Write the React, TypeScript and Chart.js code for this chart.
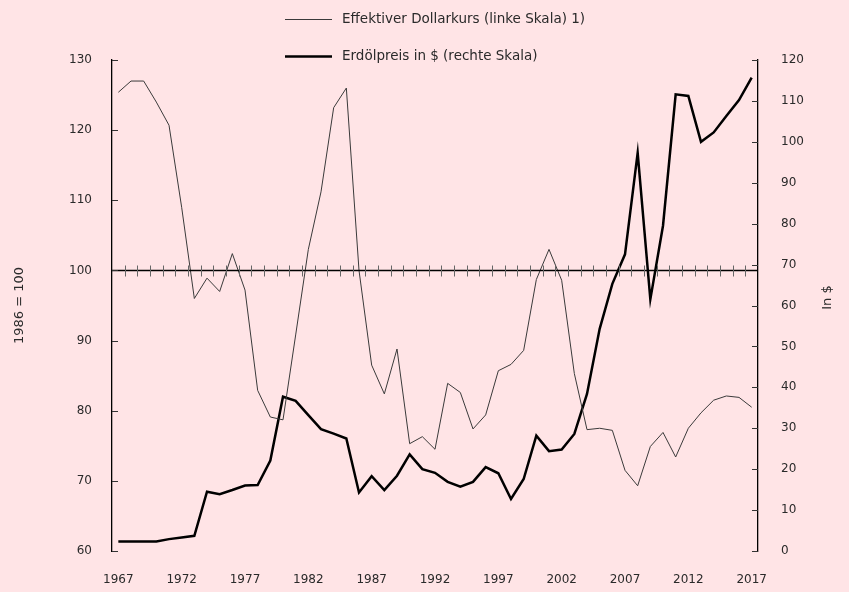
import React, { useEffect, useRef } from 'react';
import { Chart, registerables } from 'chart.js';

Chart.register(...registerables);

const years = [
  '1967', '1968', '1969', '1970', '1971', '1972', '1973', '1974', '1975', '1976',
  '1977', '1978', '1979', '1980', '1981', '1982', '1983', '1984', '1985', '1986',
  '1987', '1988', '1989', '1990', '1991', '1992', '1993', '1994', '1995', '1996',
  '1997', '1998', '1999', '2000', '2001', '2002', '2003', '2004', '2005', '2006',
  '2007', '2008', '2009', '2010', '2011', '2012', '2013', '2014', '2015', '2016',
  '2017',
];

const xTickLabels = ['1967', '1972', '1977', '1982', '1987', '1992', '1997', '2002', '2007', '2012', '2017'];

const dollarIndex = [
  125.4, 127.0, 127.0, 124.0, 120.7, 109.0, 96.0, 98.9, 97.0, 102.4,
  97.2, 82.9, 79.1, 78.7, 90.8, 103.0, 111.2, 123.2, 126.0, 100.0,
  86.5, 82.4, 88.8, 75.3, 76.3, 74.5, 83.9, 82.6, 77.4, 79.4,
  85.7, 86.6, 88.6, 98.7, 103.0, 98.6, 85.3, 77.3, 77.5, 77.2,
  71.5, 69.3, 74.9, 76.9, 73.4, 77.5, 79.7, 81.5, 82.1, 81.9,
  80.5,
];

const oilPrice = [
  2.3, 2.3, 2.3, 2.3, 2.9, 3.3, 3.7, 14.5, 13.9, 14.9,
  16.0, 16.1, 22.1, 37.7, 36.7, 33.2, 29.8, 28.7, 27.5, 14.3,
  18.3, 14.9, 18.4, 23.6, 20.0, 19.1, 16.9, 15.7, 16.9, 20.5,
  19.0, 12.7, 17.6, 28.2, 24.4, 24.8, 28.6, 38.4, 54.3, 65.3,
  72.5, 97.3, 61.5, 79.5, 111.6, 111.2, 100.0, 102.3, 106.3, 110.2,
  115.7,
];

const seriesLabels = ['Effektiver Dollarkurs (linke Skala) 1)', 'Erdölpreis in $ (rechte Skala)'];
const leftTitle = '1986 = 100';
const rightTitle = 'In $';
const baselineValue = 100;

const BG = '#FFE4E6';
const FONT = '"DejaVu Sans", sans-serif';
const TEXT = '#2a2a2a';

const decorPlugin = {
  id: 'decor',
  afterDraw(chart: any) {
    const { ctx, chartArea, scales } = chart;
    const x = scales.x;
    const yL = scales.y;
    const yR = scales.y1;
    ctx.save();
    // baseline at 100
    const yb = Math.round(yL.getPixelForValue(baselineValue)) + 0.5;
    ctx.strokeStyle = '#000';
    ctx.lineWidth = 1.3;
    ctx.beginPath();
    ctx.moveTo(chartArea.left, yb);
    ctx.lineTo(chartArea.right, yb);
    ctx.stroke();
    // small ticks at category boundaries
    ctx.strokeStyle = '#666';
    ctx.lineWidth = 1;
    const n = years.length;
    for (let i = 0; i < n - 1; i++) {
      const px = Math.round((x.getPixelForValue(i) + x.getPixelForValue(i + 1)) / 2) + 0.5;
      ctx.beginPath();
      ctx.moveTo(px, yb - 5);
      ctx.lineTo(px, yb + 6);
      ctx.stroke();
    }
    // inward ticks on y axes
    ctx.strokeStyle = '#333';
    yL.ticks.forEach((t: any, i: number) => {
      const py = Math.round(yL.getPixelForTick(i)) + 0.5;
      ctx.beginPath();
      ctx.moveTo(chartArea.left, py);
      ctx.lineTo(chartArea.left + 6, py);
      ctx.stroke();
    });
    yR.ticks.forEach((t: any, i: number) => {
      const py = Math.round(yR.getPixelForTick(i)) + 0.5;
      ctx.beginPath();
      ctx.moveTo(chartArea.right - 6, py);
      ctx.lineTo(chartArea.right, py);
      ctx.stroke();
    });
    // right axis title, reading bottom-to-top
    ctx.save();
    ctx.translate(828, (chartArea.top + chartArea.bottom) / 2 - 8);
    ctx.rotate(-Math.PI / 2);
    ctx.font = `13px ${FONT}`;
    ctx.fillStyle = TEXT;
    ctx.textAlign = 'center';
    ctx.textBaseline = 'middle';
    ctx.fillText(rightTitle, 0, 0);
    ctx.restore();
    // legend (stacked)
    const items = chart.data.datasets;
    const lx0 = 285;
    const lx1 = 332;
    const tx = 342;
    const rows = [19.5, 56.5];
    ctx.font = `13.5px ${FONT}`;
    ctx.textBaseline = 'middle';
    ctx.textAlign = 'left';
    items.forEach((ds: any, i: number) => {
      const yy = rows[i];
      ctx.strokeStyle = ds.borderColor;
      ctx.lineWidth = ds.borderWidth;
      ctx.beginPath();
      ctx.moveTo(lx0, yy);
      ctx.lineTo(lx1, yy);
      ctx.stroke();
      ctx.fillStyle = TEXT;
      ctx.fillText(ds.label, tx, yy);
    });
    ctx.restore();
  },
};

export default function App() {
  const ref = useRef<HTMLCanvasElement>(null);

  useEffect(() => {
    document.body.style.margin = '0';
    document.body.style.background = BG;
    const canvas = ref.current;
    if (!canvas) return;
    const chart = new Chart(canvas, {
      type: 'line',
      data: {
        labels: years,
        datasets: [
          {
            label: seriesLabels[0],
            data: dollarIndex,
            yAxisID: 'y',
            borderColor: '#3a3a3a',
            borderWidth: 1,
            pointRadius: 0,
            tension: 0,
            fill: false,
          },
          {
            label: seriesLabels[1],
            data: oilPrice,
            yAxisID: 'y1',
            borderColor: '#000000',
            borderWidth: 2.5,
            pointRadius: 0,
            tension: 0,
            fill: false,
          },
        ],
      },
      options: {
        responsive: false,
        animation: false,
        layout: { padding: { top: 60, left: 0, right: 0, bottom: 0 } },
        plugins: {
          legend: { display: false },
          tooltip: { enabled: false },
        },
        scales: {
          x: {
            type: 'category',
            offset: true,
            grid: { display: false, drawTicks: false },
            border: { display: false },
            ticks: {
              autoSkip: false,
              maxRotation: 0,
              padding: 22,
              color: TEXT,
              font: { family: FONT, size: 12 },
              callback: (v: any, i: number) => (xTickLabels.includes(years[i]) ? years[i] : ''),
            },
            afterFit: (s: any) => {
              s.height = 41;
            },
          },
          y: {
            position: 'left',
            min: 60,
            max: 130,
            grid: { display: true, drawOnChartArea: false, drawTicks: false },
            border: { display: true, color: '#000', width: 1.3 },
            ticks: {
              stepSize: 10,
              padding: 20,
              color: TEXT,
              font: { family: FONT, size: 12 },
            },
            title: {
              display: true,
              text: leftTitle,
              color: TEXT,
              font: { family: FONT, size: 13 },
              padding: { top: 12, bottom: 0 },
            },
            afterFit: (s: any) => {
              s.width = 112;
            },
          },
          y1: {
            position: 'right',
            min: 0,
            max: 120,
            grid: { display: true, drawOnChartArea: false, drawTicks: false },
            border: { display: true, color: '#000', width: 1.3 },
            ticks: {
              stepSize: 10,
              padding: 23,
              color: TEXT,
              font: { family: FONT, size: 12 },
            },
            afterFit: (s: any) => {
              s.width = 91;
            },
          },
        },
      },
      plugins: [decorPlugin],
    });
    return () => chart.destroy();
  }, []);

  return (
    <div style={{ width: 849, height: 592, background: BG }}>
      <canvas ref={ref} width={849} height={592} style={{ display: 'block' }} />
    </div>
  );
}
